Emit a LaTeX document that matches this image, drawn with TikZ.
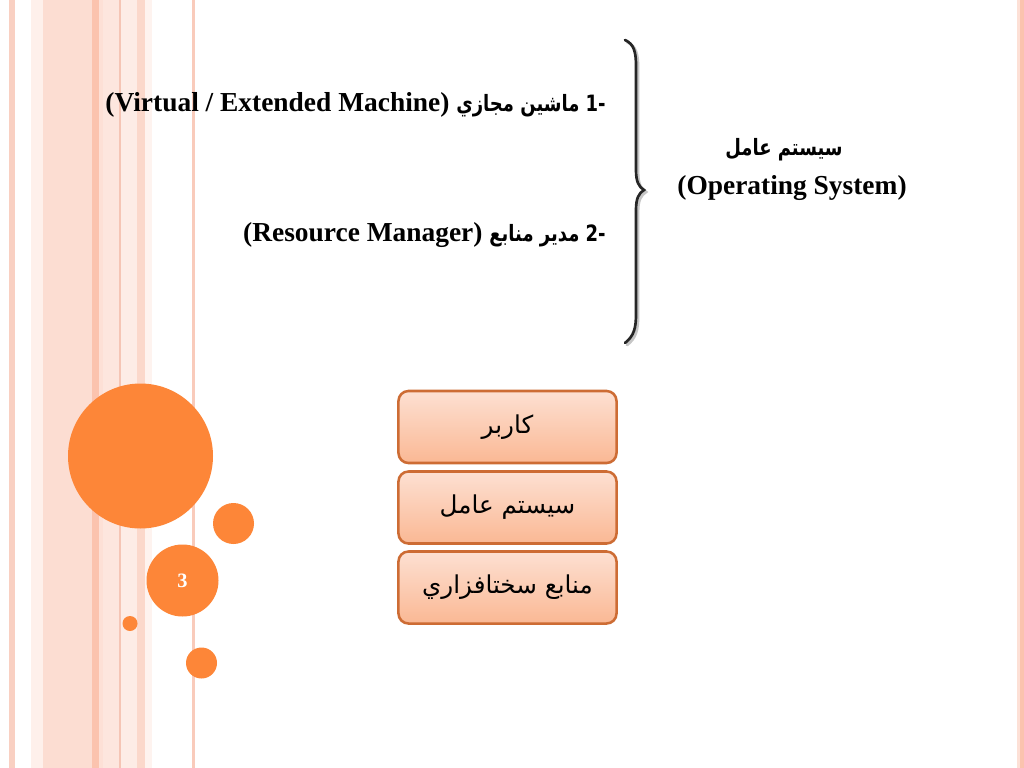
\documentclass[tikz,border=0pt]{standalone}
\usepackage{fontspec}
\setmainfont{Liberation Serif}
\newfontfamily\arabicfont[Script=Arabic]{DejaVu Sans}
\newfontfamily\arabicnarrow[Script=Arabic,FakeStretch=0.8]{DejaVu Sans}
\TeXXeTstate=1
\definecolor{orng}{RGB}{253,134,56}
\definecolor{boxtop}{RGB}{253,224,210}
\definecolor{boxbot}{RGB}{250,184,148}
\definecolor{boxline}{RGB}{205,108,52}
\definecolor{sA}{RGB}{249,208,194}
\definecolor{sB}{RGB}{254,240,235}
\definecolor{sC}{RGB}{252,221,210}
\definecolor{sD}{RGB}{251,195,174}
\definecolor{sE}{RGB}{253,224,214}
\definecolor{sF}{RGB}{253,230,222}
\definecolor{sG}{RGB}{245,197,181}
\definecolor{sH}{RGB}{253,236,230}
\definecolor{sI}{RGB}{251,216,203}
\definecolor{sJ}{RGB}{254,243,239}
\definecolor{sK}{RGB}{249,203,187}
\begin{document}
\begin{tikzpicture}[x=0.025cm,y=-0.025cm,
  hbox/.style={draw=boxline, line width=1.8pt, rounded corners=0.25cm,
    top color=boxtop, bottom color=boxbot,
    minimum width=5.45cm, minimum height=1.8cm, inner sep=0pt,
    font=\arabicfont\fontsize{17.5}{20}\selectfont},
  dot/.style={fill=orng, draw=none},
  arb/.style={font=\arabicnarrow\bfseries\fontsize{16}{19}\selectfont, inner sep=0pt},
  lat/.style={font=\bfseries\fontsize{19.5}{23}\selectfont, inner sep=0pt}]
\useasboundingbox (0,0) rectangle (1024,768);
\fill[white] (0,0) rectangle (1024,768);
% background stripes
\fill[sA] (9,0) rectangle (15,768);
\fill[sB] (31,0) rectangle (43,768);
\fill[sC] (43,0) rectangle (92,768);
\fill[sD] (92,0) rectangle (99,768);
\fill[sE] (99,0) rectangle (103,768);
\fill[sF] (103,0) rectangle (119,768);
\fill[sG] (119,0) rectangle (120.5,768);
\fill[sH] (120.5,0) rectangle (137,768);
\fill[sI] (137,0) rectangle (145,768);
\fill[sJ] (145,0) rectangle (152,768);
\fill[sK] (192,0) rectangle (194.5,768);
\fill[sE] (1017,0) rectangle (1020,768);
\fill[sD] (1020,0) rectangle (1024,768);
% circles
\fill[dot] (140.5,456) circle (72.5);
\fill[dot] (233.5,523.5) circle (20.5);
\fill[dot] (182.5,580.5) circle (36);
\fill[dot] (130,623.5) circle (7.5);
\fill[dot] (201.5,663) circle (15.5);
\node[text=white, font=\bfseries\fontsize{14.5}{16}\selectfont] (pg) at (182.5,580.5) {3};
% brace (shadow + stroke)
\draw[line width=2pt, gray!45, line cap=round]
  (627,42) .. controls (636,46) and (638,54) .. (638,68) -- (638,172)
  .. controls (638,184) and (641,189) .. (646,192)
  .. controls (641,195) and (638,200) .. (638,212) -- (638,316)
  .. controls (638,330) and (636,338) .. (627,345);
\draw[line width=1.9pt, black!85, line cap=round]
  (625,40) .. controls (634,44) and (636,52) .. (636,66) -- (636,170)
  .. controls (636,182) and (639,187) .. (644,190)
  .. controls (639,193) and (636,198) .. (636,210) -- (636,314)
  .. controls (636,328) and (634,336) .. (625,343);
% text lines
\node[lat, anchor=base east] (t1) at (606,112)
  {(Virtual / Extended Machine) {\arabicnarrow\bfseries\fontsize{16}{19}\selectfont\beginR ماشين مجازي\endR\ -1}};
\node[lat, anchor=base east] (t2) at (606,241)
  {(Resource Manager) {\arabicnarrow\bfseries\fontsize{16}{19}\selectfont\beginR مدير منابع\endR\ -2}};
\node[arb, anchor=base] (os1) at (784,156) {\beginR سيستم عامل\endR};
\node[lat, anchor=base] (os2) at (792,194) {(Operating System)};
% stacked boxes
\node[hbox] (b1) at (507.5,427) {\beginR كاربر\endR};
\node[hbox] (b2) at (507.5,507.5) {\beginR سيستم عامل\endR};
\node[hbox] (b3) at (507.5,587.5) {\beginR منابع سختافزاري\endR};
\end{tikzpicture}
\end{document}
